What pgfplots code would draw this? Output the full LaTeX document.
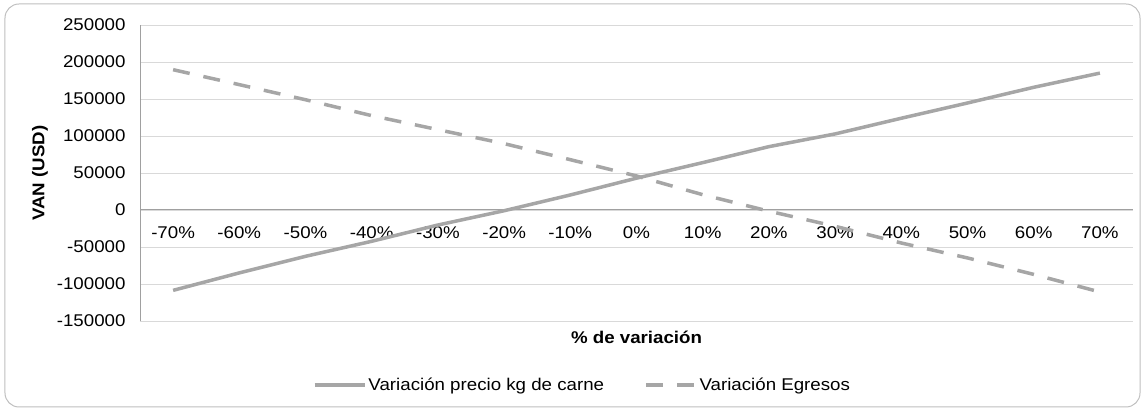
\documentclass[border=0pt]{standalone}
\usepackage{pgfplots}
\pgfplotsset{compat=1.18}
\usepackage{fontspec}
\setmainfont{Liberation Sans}[FakeStretch=1.1]
\definecolor{lineg}{HTML}{A6A6A6}
\definecolor{gridg}{HTML}{D9D9D9}
\definecolor{zerog}{HTML}{A0A0A0}
\definecolor{bordg}{HTML}{BFBFBF}
\begin{document}
\begin{tikzpicture}
\begin{axis}[
  name=ax,
  scale only axis,
  width=993pt, height=296pt,
  xmin=-0.5, xmax=14.5,
  ymin=-150000, ymax=250000,
  ytick={-150000,-100000,-50000,0,50000,100000,150000,200000,250000},
  scaled y ticks=false,
  yticklabel style={/pgf/number format/fixed, /pgf/number format/1000 sep={}},
  xtick={0,...,14},
  xticklabels={-70\%,-60\%,-50\%,-40\%,-30\%,-20\%,-10\%,0\%,10\%,20\%,30\%,40\%,50\%,60\%,70\%},
  axis x line=middle,
  axis y line=left,
  x axis line style={-, draw=zerog, line width=1pt},
  y axis line style={-, draw=zerog, line width=0.8pt},
  major tick length=0pt,
  ymajorgrids,
  major grid style={draw=gridg, line width=0.9pt},
  /pgf/number format/1000 sep={},
  /pgf/number format/assume math mode=true,
  tick label style={font=\fontsize{17}{20}\selectfont, text=black},
  xticklabel style={yshift=-13pt},
  yticklabel style={xshift=-11pt},
  xlabel={\textbf{\% de variación}},
  ylabel={\textbf{VAN (USD)}},
  xlabel style={at={(rel axis cs:0.5,-0.054)}, anchor=center, font=\fontsize{17}{20}\selectfont},
  ylabel style={at={(rel axis cs:-0.1007,0.5)}, anchor=center, font=\fontsize{17}{20}\selectfont},
  legend style={at={(0.4456,-0.216)}, anchor=center, draw=none, fill=none,
    legend columns=2, font=\fontsize{17}{20}\selectfont,
    /tikz/every even column/.append style={column sep=38pt}},
  legend image code/.code={\draw[#1] (0pt,0pt) -- (50pt,0pt);},
  clip=false,
]
\addplot[lineg, line width=3.5pt] coordinates {
(0,-108600) (1,-85000) (2,-62600) (3,-42300) (4,-20300) (5,-1000) (6,20300) (7,43000)
(8,64000) (9,85600) (10,102800) (11,124000) (12,144600) (13,165800) (14,185000)};
\addlegendentry{Variación precio kg de carne}
\addplot[lineg, line width=3.5pt, dash pattern=on 17pt off 14pt] coordinates {
(0,189600) (1,169400) (2,149000) (3,127500) (4,108600) (5,89700) (6,68000) (7,46000)
(8,20700) (9,-1600) (10,-22000) (11,-44600) (12,-64800) (13,-87000) (14,-110800)};
\addlegendentry{Variación Egresos}
\end{axis}
\pgfresetboundingbox
\useasboundingbox ([xshift=-140pt,yshift=-90pt]ax.south west) rectangle ([xshift=12pt,yshift=25pt]ax.north east);
\draw[bordg, line width=1pt, rounded corners=14pt] ([xshift=-135pt,yshift=-86pt]ax.south west) rectangle ([xshift=7pt,yshift=21pt]ax.north east);
\end{tikzpicture}
\end{document}
